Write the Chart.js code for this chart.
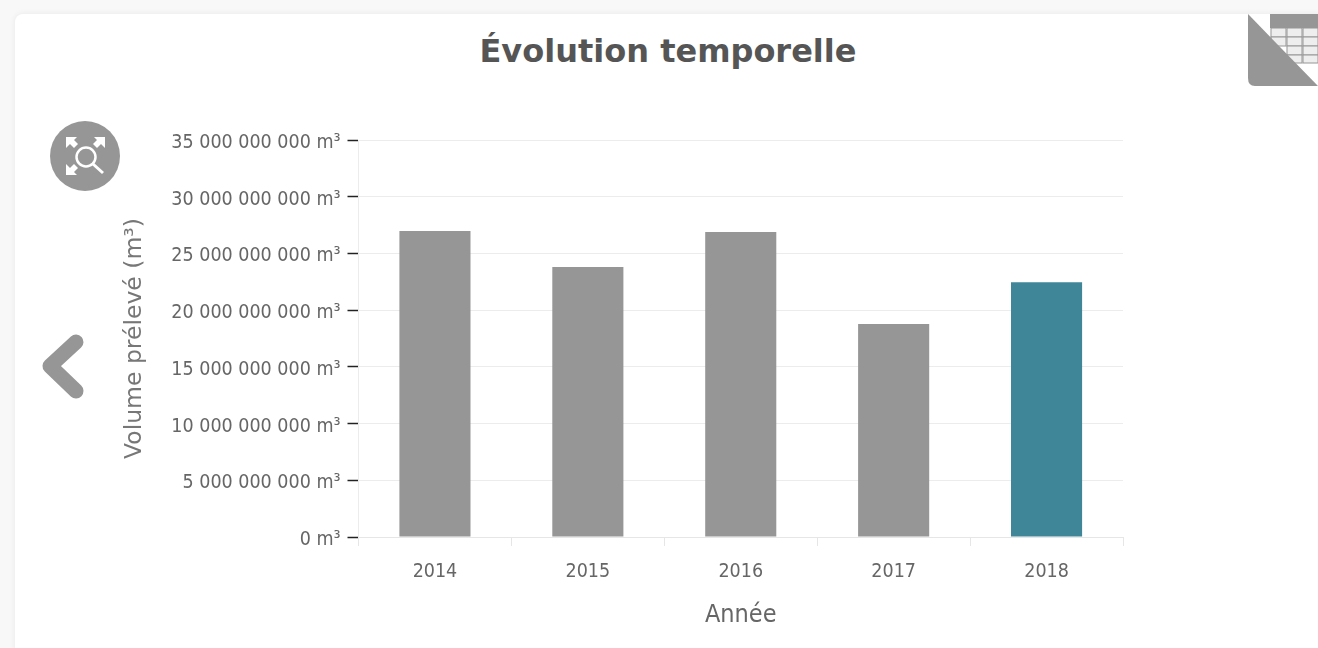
<!DOCTYPE html>
<html lang="fr">
<head>
<meta charset="utf-8">
<title>Évolution temporelle</title>
<script src="https://cdn.jsdelivr.net/npm/chart.js@4"></script>
<style>
  html, body { margin: 0; height: 100%; overflow: hidden; background: #f8f8f8; }
  .card { position: absolute; left: 15px; top: 14px; width: 1330px; height: 660px; background: #fff; border-radius: 8px; box-shadow: 0 0 6px rgba(0,0,0,0.07); }
  h1 { position: absolute; left: 418px; top: 31px; width: 500px; margin: 0; text-align: center; font: bold 32px "DejaVu Sans", sans-serif; line-height: 40px; color: #555; }
  canvas { position: absolute; left: 0; top: 0; }
  .icon { position: absolute; }
</style>
</head>
<body>
<div class="card"></div>
<h1>Évolution temporelle</h1>
<svg class="icon" style="left:0;top:0" width="1318" height="648" viewBox="0 0 1318 648">
  <!-- zoom button -->
  <circle cx="85" cy="156" r="35" fill="#959695"/>
  <g fill="#fff">
    <path d="M66 137h11l-3 3 4 4-4 4-4-4-4 4z"/>
    <path d="M105 137h-11l3 3-4 4 4 4 4-4 4 4z"/>
    <path d="M66 175h11l-3-3 4-4-4-4-4 4-4-4z"/>
  </g>
  <circle cx="86" cy="157" r="9.5" fill="none" stroke="#fff" stroke-width="2.5"/>
  <path d="M93 164l10 9" stroke="#fff" stroke-width="3" fill="none"/>
  <!-- back arrow -->
  <path d="M76 342L50 366L76 391" fill="none" stroke="#959695" stroke-width="15" stroke-linecap="round" stroke-linejoin="round"/>
  <!-- table corner -->
  <rect x="1270" y="14" width="48" height="14" fill="#959695"/>
  <g fill="#eee" stroke="#959695" stroke-width="1">
    <rect x="1271" y="28" width="15" height="9"/><rect x="1287" y="28" width="15" height="9"/><rect x="1303" y="28" width="15" height="9"/>
    <rect x="1271" y="37" width="15" height="9"/><rect x="1287" y="37" width="15" height="9"/><rect x="1303" y="37" width="15" height="9"/>
    <rect x="1287" y="46" width="15" height="9"/><rect x="1303" y="46" width="15" height="9"/>
    <rect x="1287" y="55" width="15" height="8"/><rect x="1303" y="55" width="15" height="8"/>
  </g>
  <path d="M1248 14L1318 86H1255Q1248 86 1248 78Z" fill="#959695"/>
</svg>
<canvas id="chart" width="1318" height="648"></canvas>
<script>
const years = ["2014", "2015", "2016", "2017", "2018"];
const volumes = [26970000000, 23800000000, 26900000000, 18770000000, 22470000000];
const highlightedYear = "2018";

const labelFont = '"DejaVu Sans Condensed", "DejaVu Sans", sans-serif';

new Chart(document.getElementById("chart"), {
  type: "bar",
  data: {
    labels: years,
    datasets: [
      {
        data: volumes,
        backgroundColor: years.map((y) => (y === highlightedYear ? "#3f8699" : "#959695")),
        barPercentage: 0.465,
        categoryPercentage: 1,
      },
    ],
  },
  options: {
    responsive: false,
    animation: false,
    layout: { padding: { top: 140, right: 195, left: 121, bottom: 18 } },
    plugins: { legend: { display: false }, tooltip: { enabled: false } },
    scales: {
      x: {
        afterFit: (scale) => { scale.height = 93; },
        grid: { color: "#ececec", drawOnChartArea: false, tickColor: "#e6e6e6", tickLength: 9 },
        border: { color: "#e6e6e6" },
        ticks: { color: "#666", font: { family: labelFont, size: 19.5 }, padding: 14, maxRotation: 0 },
        title: { display: true, text: "Année", color: "#666", font: { family: labelFont, size: 25 }, padding: 0 },
      },
      y: {
        min: 0,
        max: 35000000000,
        afterFit: (scale) => { scale.width = 237.5; },
        grid: { color: "#ececec", tickColor: "#222", tickLength: 11, tickWidth: 1.5 },
        border: { color: "#ececec" },
        ticks: {
          stepSize: 5000000000,
          color: "#666",
          font: { family: labelFont, size: 19.5 },
          padding: 7,
          labelOffset: 3,
          // french thousands, spaces every 3 digits
          callback: (v) => String(v).replace(/\B(?=(\d{3})+$)/g, " ") + " m³",
        },
        title: { display: true, text: "Volume prélevé (m³)", color: "#777", font: { family: '"DejaVu Sans", sans-serif', size: 23.5 }, padding: 0 },
      },
    },
  },
});
</script>
</body>
</html>
